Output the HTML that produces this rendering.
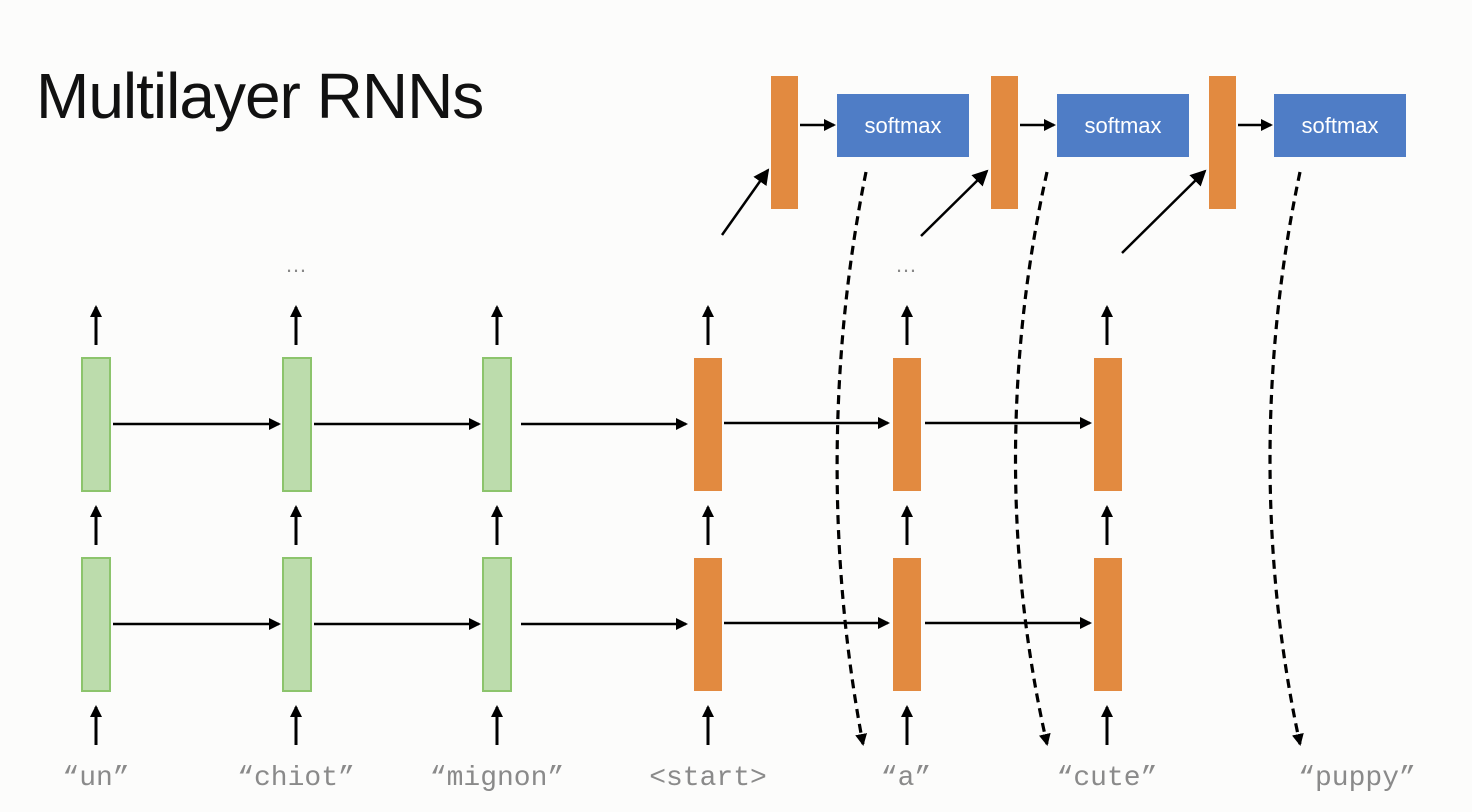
<!DOCTYPE html>
<html><head><meta charset="utf-8"><style>
html,body{margin:0;padding:0;background:#fcfcfb;}
svg{display:block}
</style></head><body>
<svg width="1472" height="812" viewBox="0 0 1472 812" xmlns="http://www.w3.org/2000/svg">
<defs>
<marker id="ah" markerWidth="12" markerHeight="12" refX="10" refY="6" orient="auto" markerUnits="userSpaceOnUse">
<path d="M0,0 L12,6 L0,12 z" fill="#000"/></marker>
<marker id="ah2" markerWidth="16" markerHeight="16" refX="14" refY="8" orient="auto" markerUnits="userSpaceOnUse">
<path d="M0,0 L16,8 L0,16 z" fill="#000"/></marker>
</defs>
<rect width="1472" height="812" fill="#fcfcfb"/>
<text x="36" y="118" font-family="Liberation Sans, sans-serif" font-size="64" fill="#111" letter-spacing="-1">Multilayer RNNs</text>

<g fill="#bcdcac" stroke="#8cc46c" stroke-width="2">
<rect x="82" y="358" width="28" height="133"/><rect x="283" y="358" width="28" height="133"/><rect x="483" y="358" width="28" height="133"/>
<rect x="82" y="558" width="28" height="133"/><rect x="283" y="558" width="28" height="133"/><rect x="483" y="558" width="28" height="133"/>
</g>
<g fill="#e28a40">
<rect x="694" y="358" width="28" height="133"/><rect x="893" y="358" width="28" height="133"/><rect x="1094" y="358" width="28" height="133"/>
<rect x="694" y="558" width="28" height="133"/><rect x="893" y="558" width="28" height="133"/><rect x="1094" y="558" width="28" height="133"/>
<rect x="771" y="76" width="27" height="133"/><rect x="991" y="76" width="27" height="133"/><rect x="1209" y="76" width="27" height="133"/>
</g>
<g fill="#4f7dc6">
<rect x="837" y="94" width="132" height="63"/><rect x="1057" y="94" width="132" height="63"/><rect x="1274" y="94" width="132" height="63"/>
</g>
<g font-family="Liberation Sans, sans-serif" font-size="22" fill="#fff" text-anchor="middle">
<text x="903" y="133">softmax</text><text x="1123" y="133">softmax</text><text x="1340" y="133">softmax</text>
</g>

<g stroke="#000" stroke-width="2.5" marker-end="url(#ah)">
<line x1="113" y1="424" x2="279" y2="424"/><line x1="314" y1="424" x2="479" y2="424"/><line x1="521" y1="424" x2="686" y2="424"/>
<line x1="724" y1="423" x2="888" y2="423"/><line x1="925" y1="423" x2="1090" y2="423"/>
<line x1="113" y1="624" x2="279" y2="624"/><line x1="314" y1="624" x2="479" y2="624"/><line x1="521" y1="624" x2="686" y2="624"/>
<line x1="724" y1="623" x2="888" y2="623"/><line x1="925" y1="623" x2="1090" y2="623"/>
<line x1="800" y1="125" x2="834" y2="125"/><line x1="1020" y1="125" x2="1054" y2="125"/><line x1="1238" y1="125" x2="1271" y2="125"/>
</g>
<g stroke="#000" stroke-width="3" marker-end="url(#ah)">
<line x1="96" y1="345" x2="96" y2="307"/><line x1="296" y1="345" x2="296" y2="307"/><line x1="497" y1="345" x2="497" y2="307"/>
<line x1="708" y1="345" x2="708" y2="307"/><line x1="907" y1="345" x2="907" y2="307"/><line x1="1107" y1="345" x2="1107" y2="307"/>
<line x1="96" y1="545" x2="96" y2="507"/><line x1="296" y1="545" x2="296" y2="507"/><line x1="497" y1="545" x2="497" y2="507"/>
<line x1="708" y1="545" x2="708" y2="507"/><line x1="907" y1="545" x2="907" y2="507"/><line x1="1107" y1="545" x2="1107" y2="507"/>
<line x1="96" y1="745" x2="96" y2="707"/><line x1="296" y1="745" x2="296" y2="707"/><line x1="497" y1="745" x2="497" y2="707"/>
<line x1="708" y1="745" x2="708" y2="707"/><line x1="907" y1="745" x2="907" y2="707"/><line x1="1107" y1="745" x2="1107" y2="707"/>
</g>
<g stroke="#000" stroke-width="2.5" marker-end="url(#ah2)">
<line x1="722" y1="235" x2="768" y2="170"/><line x1="921" y1="236" x2="987" y2="171"/><line x1="1122" y1="253" x2="1205" y2="171"/>
</g>
<g stroke="#000" stroke-width="3.2" fill="none" stroke-dasharray="9,6" marker-end="url(#ah)">
<path d="M866,172 C828,360 828,560 863,744"/>
<path d="M1047,172 C1005,360 1005,560 1047,744"/>
<path d="M1300,172 C1260,360 1260,560 1300,744"/>
</g>
<g font-family="Liberation Sans, sans-serif" font-size="22" fill="#888" text-anchor="middle">
<text x="296" y="272">…</text><text x="906" y="272">…</text>
</g>
<g font-family="Liberation Mono, monospace" font-size="28" fill="#8a8a8a" text-anchor="middle">
<text x="96" y="785">“un”</text><text x="296" y="785">“chiot”</text><text x="497" y="785">“mignon”</text>
<text x="708" y="785">&lt;start&gt;</text><text x="906" y="785">“a”</text><text x="1107" y="785">“cute”</text><text x="1357" y="785">“puppy”</text>
</g>
</svg>
</body></html>
